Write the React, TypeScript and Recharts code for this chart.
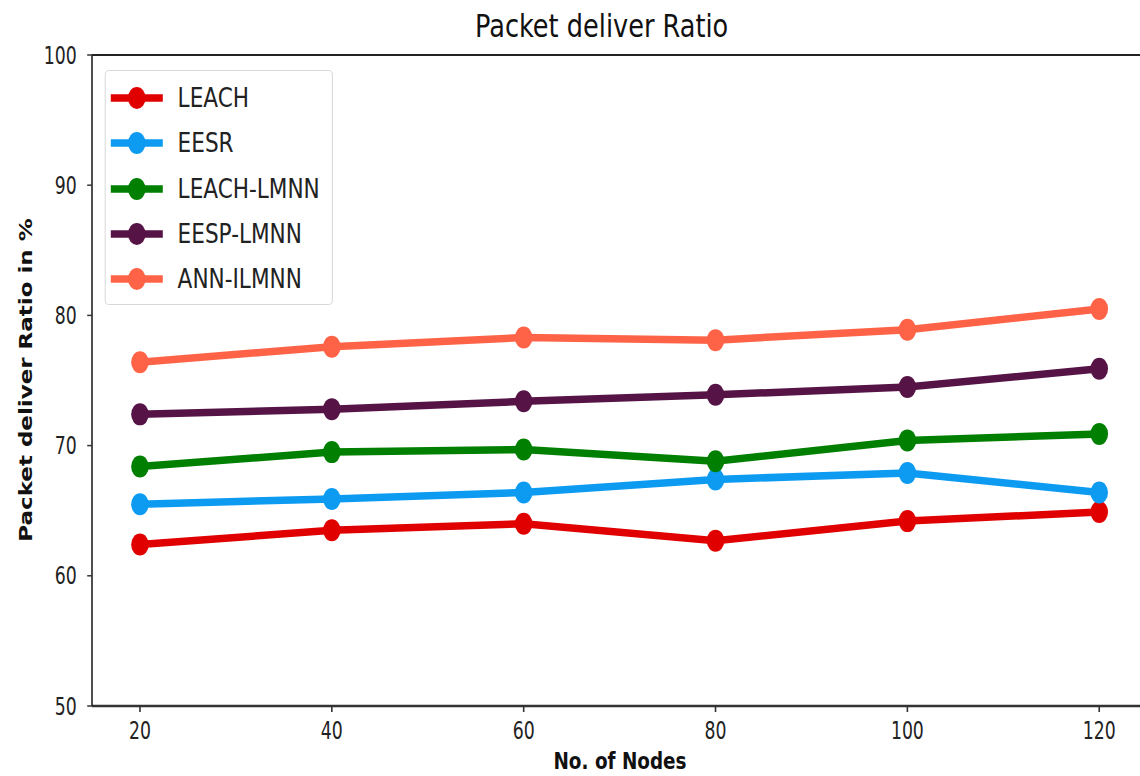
import React from 'react';
import { LineChart, Line, XAxis, YAxis, ReferenceLine, Legend } from 'recharts';

// ---- data ----
const nodes = [20, 40, 60, 80, 100, 120];
const leach = [62.4, 63.5, 64.0, 62.7, 64.2, 64.9];
const eesr = [65.5, 65.9, 66.4, 67.4, 67.9, 66.4];
const leachLmnn = [68.4, 69.5, 69.7, 68.8, 70.4, 70.9];
const eespLmnn = [72.4, 72.8, 73.4, 73.9, 74.5, 75.9];
const annIlmnn = [76.4, 77.6, 78.3, 78.1, 78.9, 80.5];

const seriesNames = ['LEACH', 'EESR', 'LEACH-LMNN', 'EESP-LMNN', 'ANN-ILMNN'];
const seriesColors = ['#e00000', '#0d9bf2', '#007f00', '#561446', '#ff6347'];
const seriesValues = [leach, eesr, leachLmnn, eespLmnn, annIlmnn];
const xTicks = [20, 40, 60, 80, 100, 120];
const yTicks = [50, 60, 70, 80, 90, 100];

const titleText = 'Packet deliver Ratio';
const xLabelText = 'No. of Nodes';
const yLabelText = 'Packet deliver Ratio in %';

const data = nodes.map((n, i) => {
  const row: any = { nodes: n };
  seriesNames.forEach((name, k) => {
    row[name] = seriesValues[k][i];
  });
  return row;
});

// ---- layout (inner coordinates; the whole drawing is squeezed horizontally) ----
const SX = 0.8;
const INNER_W = 1440;
const H = 776;
const FONT = "'DejaVu Sans Condensed', 'DejaVu Sans', sans-serif";
const FONT_REG = "'DejaVu Sans', sans-serif";

const LegendBox = (props: any) => {
  const raw: any[] = props.payload ?? [];
  const items = seriesNames.map((name, i) => {
    const found = raw.find((p) => p.value === name);
    return { value: name, color: found?.color ?? seriesColors[i] };
  });
  return (
    <div
      style={{
        position: 'relative',
        width: 285,
        height: 235,
        border: '1.5px solid #d4d4d4',
        borderRadius: 5,
        background: 'rgba(255,255,255,0.85)',
        boxSizing: 'border-box',
      }}
    >
      {items.map((p, i) => (
        <div
          key={p.value}
          style={{ position: 'absolute', left: 0, top: 27 + i * 45.3 - 20, height: 40, width: 280 }}
        >
          <svg width={80} height={40} style={{ position: 'absolute', left: 0, top: 0 }}>
            <line x1={6.5} x2={71.5} y1={20} y2={20} stroke={p.color} strokeWidth={7.5} />
            <circle cx={39} cy={20} r={11} fill={p.color} />
          </svg>
          <span
            style={{
              position: 'absolute',
              left: 90,
              top: 0,
              lineHeight: '40px',
              fontSize: 27,
              fontFamily: FONT_REG,
              color: '#222',
              whiteSpace: 'nowrap',
            }}
          >
            {p.value}
          </span>
        </div>
      ))}
    </div>
  );
};

export default function App() {
  return (
    <div
      style={{
        position: 'absolute',
        left: 0,
        top: 0,
        width: 1140,
        height: H,
        overflow: 'hidden',
        background: '#fff',
      }}
    >
      <div
        style={{
          position: 'relative',
          width: INNER_W,
          height: H,
          transform: `scaleX(${SX})`,
          transformOrigin: '0 0',
        }}
      >
        <LineChart
          width={INNER_W}
          height={H}
          data={data}
          margin={{ top: 55, right: 6, bottom: 0, left: 55 }}
        >
          <XAxis
            dataKey="nodes"
            type="number"
            domain={[15, 125]}
            ticks={xTicks}
            interval={0}
            allowDataOverflow
            height={70}
            tickSize={6}
            tickMargin={10}
            axisLine={{ stroke: '#333', strokeWidth: 2.5 }}
            tickLine={{ stroke: '#333', strokeWidth: 2 }}
            tick={{ fill: '#222', fontSize: 24, fontFamily: FONT }}
          />
          <YAxis
            type="number"
            domain={[50, 100]}
            ticks={yTicks}
            interval={0}
            allowDataOverflow
            width={60}
            tickSize={6}
            tickMargin={13}
            axisLine={{ stroke: '#222', strokeWidth: 2 }}
            tickLine={{ stroke: '#333', strokeWidth: 1.5 }}
            tick={{ fill: '#222', fontSize: 24, fontFamily: FONT }}
          />
          <ReferenceLine y={100} stroke="#222" strokeWidth={2} />
          <Legend
            layout="vertical"
            align="center"
            verticalAlign="middle"
            content={<LegendBox />}
            wrapperStyle={{ left: 131, top: 70, width: 285, height: 235 }}
          />
          {seriesNames.map((name, i) => (
            <Line
              key={name}
              type="linear"
              dataKey={name}
              name={name}
              stroke={seriesColors[i]}
              strokeWidth={7.5}
              dot={{ r: 11, fill: seriesColors[i], stroke: seriesColors[i], strokeWidth: 0 }}
              activeDot={false}
              isAnimationActive={false}
            />
          ))}
        </LineChart>
        <svg
          width={INNER_W}
          height={H}
          style={{ position: 'absolute', left: 0, top: 0, pointerEvents: 'none' }}
        >
          <text x={752} y={37} textAnchor="middle" fontSize={32} fontFamily={FONT_REG} fill="#111">
            {titleText}
          </text>
          <text
            x={775}
            y={769}
            textAnchor="middle"
            fontSize={23}
            fontWeight="bold"
            fontFamily={FONT_REG}
            fill="#111"
          >
            {xLabelText}
          </text>
          <text
            transform="translate(40,380) rotate(-90)"
            textAnchor="middle"
            fontSize={23}
            fontWeight="bold"
            fontFamily={FONT_REG}
            fill="#111"
          >
            {yLabelText}
          </text>
        </svg>
      </div>
    </div>
  );
}
